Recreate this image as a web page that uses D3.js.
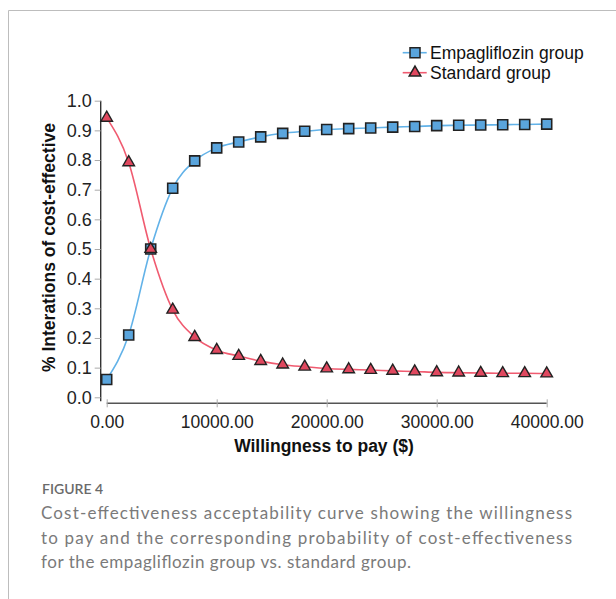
<!DOCTYPE html>
<html>
<head>
<meta charset="utf-8">
<script src="https://cdn.jsdelivr.net/npm/d3@7"></script>
<style>
  body { margin: 0; background: #fff; }
  svg { display: block; }
</style>
</head>
<body>
<div id="chart"></div>
<script>
// data
const wtp = [0, 2000, 4000, 6000, 8000, 10000, 12000, 14000, 16000, 18000, 20000,
	22000, 24000, 26000, 28000, 30000, 32000, 34000, 36000, 38000, 40000];
const empagliflozin = [0.06, 0.21, 0.50, 0.705, 0.797, 0.841, 0.861, 0.878, 0.890, 0.897, 0.903,
	0.906, 0.908, 0.911, 0.913, 0.916, 0.917, 0.918, 0.919, 0.920, 0.921];
const standard = [0.942, 0.792, 0.50, 0.295, 0.203, 0.159, 0.139, 0.122, 0.110, 0.103, 0.097,
	0.094, 0.092, 0.089, 0.087, 0.084, 0.083, 0.082, 0.081, 0.081, 0.080];
const xTicks = [0, 10000, 20000, 30000, 40000];
const yTicks = [0, 0.1, 0.2, 0.3, 0.4, 0.5, 0.6, 0.7, 0.8, 0.9, 1.0];
const seriesNames = ["Empagliflozin group", "Standard group"];
const captionTitle = "FIGURE 4";
const captionLines = [
	"Cost-effectiveness acceptability curve showing the willingness",
	"to pay and the corresponding probability of cost-effectiveness",
	"for the empagliflozin group vs. standard group."
];

const W = 616, H = 599;
const font = "'Liberation Sans', Arial, sans-serif";

const svg = d3.select("#chart").append("svg")
	.attr("width", W)
	.attr("height", H);

// frame around the figure
svg.append("path")
	.attr("d", `M8.5,${H} V10.5 H${W}`)
	.attr("fill", "none")
	.attr("stroke", "#bdbdbd")
	.attr("stroke-width", 1);

const x = d3.scaleLinear().domain([0, 40000]).range([106.7, 546.7]);
const y = d3.scaleLinear().domain([0, 1]).range([397.3, 100.7]);

const blue = { line: "#62b2e8", fill: "#5aa5dd" };
const red = { line: "#f05b70", fill: "#e0485f" };

// y axis
const yAxis = svg.append("g")
	.attr("transform", "translate(100.7,0)")
	.call(d3.axisLeft(y).tickValues(yTicks).tickFormat(d3.format(".1f")).tickSize(6).tickPadding(3));
yAxis.select(".domain").attr("stroke", "#333").attr("stroke-width", 1.4)
	.attr("d", `M0,${y(1)}V${y(0) + 4}`);
yAxis.selectAll(".tick line").attr("stroke", "#aaa");
yAxis.selectAll(".tick text")
	.attr("font-family", font)
	.attr("font-size", 18)
	.attr("fill", "#222");

// x axis
const xAxis = svg.append("g")
	.attr("transform", "translate(0,403.3)")
	.call(d3.axisBottom(x).tickValues(xTicks).tickFormat(d3.format(".2f")).tickSize(4).tickPadding(8));
xAxis.select(".domain").attr("stroke", "#555").attr("stroke-width", 1.4)
	.attr("d", `M${x(0)},0H${x(40000)}`);
xAxis.selectAll(".tick line").attr("stroke", "#aaa").attr("y1", -4).attr("y2", 4);
xAxis.selectAll(".tick text")
	.attr("font-family", font)
	.attr("font-size", 17.5)
	.attr("fill", "#222");

// axis titles
svg.append("text")
	.attr("x", 324)
	.attr("y", 452.3)
	.attr("text-anchor", "middle")
	.attr("font-family", font)
	.attr("font-size", 17.5)
	.attr("font-weight", "bold")
	.attr("fill", "#111")
	.text("Willingness to pay ($)");

svg.append("text")
	.attr("transform", "translate(54.5,247.5) rotate(-90)")
	.attr("text-anchor", "middle")
	.attr("font-family", font)
	.attr("font-size", 17.5)
	.attr("font-weight", "bold")
	.attr("fill", "#111")
	.text("% Interations of cost-effective");

// lines
const line = d3.line()
	.x(d => x(d[0]))
	.y(d => y(d[1]))
	.curve(d3.curveMonotoneX);

const empData = wtp.map((w, i) => [w, empagliflozin[i]]);
const stdData = wtp.map((w, i) => [w, standard[i]]);

svg.append("path").datum(empData)
	.attr("d", line).attr("fill", "none")
	.attr("stroke", blue.line).attr("stroke-width", 1.6);
svg.append("path").datum(stdData)
	.attr("d", line).attr("fill", "none")
	.attr("stroke", red.line).attr("stroke-width", 1.6);

const square = d3.symbol().type(d3.symbolSquare).size(100);
const triangle = d3.symbol().type(d3.symbolTriangle).size(58);

svg.append("g").selectAll("path")
	.data(empData)
	.join("path")
	.attr("transform", d => `translate(${x(d[0])},${y(d[1])})`)
	.attr("d", square)
	.attr("fill", blue.fill)
	.attr("stroke", "#222")
	.attr("stroke-width", 1.6);

svg.append("g").selectAll("path")
	.data(stdData)
	.join("path")
	.attr("transform", d => `translate(${x(d[0])},${y(d[1])})`)
	.attr("d", triangle)
	.attr("fill", red.fill)
	.attr("stroke", "#222")
	.attr("stroke-width", 1.4);

// legend
const legend = svg.append("g");
const legendRows = [
	{ name: seriesNames[0], color: blue, sym: square, cy: 52.7 },
	{ name: seriesNames[1], color: red, sym: triangle, cy: 72.7 }
];
legendRows.forEach(r => {
	legend.append("line")
		.attr("x1", 402.7).attr("x2", 426.7)
		.attr("y1", r.cy).attr("y2", r.cy)
		.attr("stroke", r.color.line).attr("stroke-width", 1.6);
	legend.append("path")
		.attr("transform", `translate(415,${r.cy})`)
		.attr("d", r.sym)
		.attr("fill", r.color.fill)
		.attr("stroke", "#222")
		.attr("stroke-width", 1.5);
	legend.append("text")
		.attr("x", 430)
		.attr("y", r.cy + 6.2)
		.attr("font-family", font)
		.attr("font-size", 17.5)
		.attr("fill", "#111")
		.text(r.name);
});

// caption
svg.append("text")
	.attr("x", 42)
	.attr("y", 494)
	.attr("font-family", "Lato, 'Open Sans', sans-serif")
	.attr("font-size", 14)
	.attr("font-weight", 600)
	.attr("fill", "#6a6a6a")
	.text(captionTitle);

const capWidths = [531, 531, 370];
captionLines.forEach((t, i) => {
	svg.append("text")
		.attr("x", 41)
		.attr("y", 519.3 + i * 24.5)
		.attr("font-family", "Lato, 'Open Sans', sans-serif")
		.attr("font-size", 17)
		.attr("fill", "#7a7a7a")
		.attr("textLength", capWidths[i])
		.attr("lengthAdjust", "spacing")
		.text(t);
});
</script>
</body>
</html>
